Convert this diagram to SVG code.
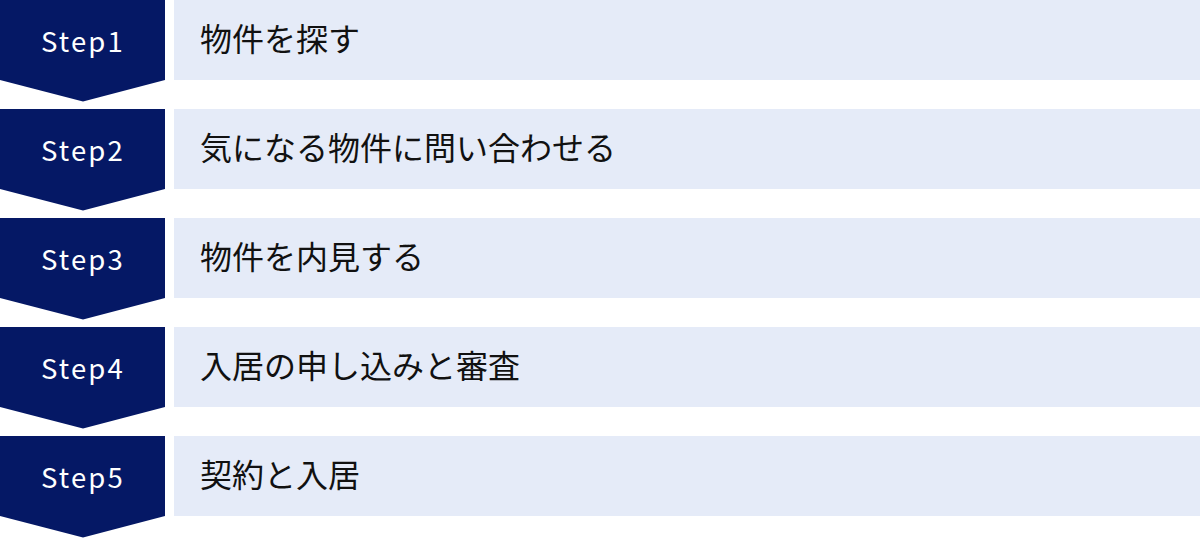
<svg xmlns="http://www.w3.org/2000/svg" width="1200" height="538" viewBox="0 0 1200 538">
<style>
.badge{fill:#051865}
.box{fill:#E5EBF8}
.lbl{font-family:"Noto Sans CJK JP","Noto Sans",sans-serif;font-size:27.5px;fill:#ffffff;text-anchor:middle;letter-spacing:2.2px}
.txt{font-family:"Noto Sans CJK JP","Noto Sans",sans-serif;font-size:32px;fill:#111111}
</style>
<rect width="1200" height="538" fill="#ffffff"/>
<g id="step1">
<path class="badge" d="M0,0H165V80L83,101.5L0,80Z"/>
<rect class="box" x="174" y="0" width="1026" height="80"/>
<text class="lbl" x="83" y="52">Step1</text>
<text class="txt" x="200" y="50.5">物件を探す</text>
</g>
<g id="step2">
<path class="badge" d="M0,109H165V189L83,210.5L0,189Z"/>
<rect class="box" x="174" y="109" width="1026" height="80"/>
<text class="lbl" x="83" y="161">Step2</text>
<text class="txt" x="200" y="159.5">気になる物件に問い合わせる</text>
</g>
<g id="step3">
<path class="badge" d="M0,218H165V298L83,319.5L0,298Z"/>
<rect class="box" x="174" y="218" width="1026" height="80"/>
<text class="lbl" x="83" y="270">Step3</text>
<text class="txt" x="200" y="268.5">物件を内見する</text>
</g>
<g id="step4">
<path class="badge" d="M0,327H165V407L83,428.5L0,407Z"/>
<rect class="box" x="174" y="327" width="1026" height="80"/>
<text class="lbl" x="83" y="379">Step4</text>
<text class="txt" x="200" y="377.5">入居の申し込みと審査</text>
</g>
<g id="step5">
<path class="badge" d="M0,436H165V516L83,537.5L0,516Z"/>
<rect class="box" x="174" y="436" width="1026" height="80"/>
<text class="lbl" x="83" y="488">Step5</text>
<text class="txt" x="200" y="486.5">契約と入居</text>
</g>
<g id="connectors"></g>
</svg>
